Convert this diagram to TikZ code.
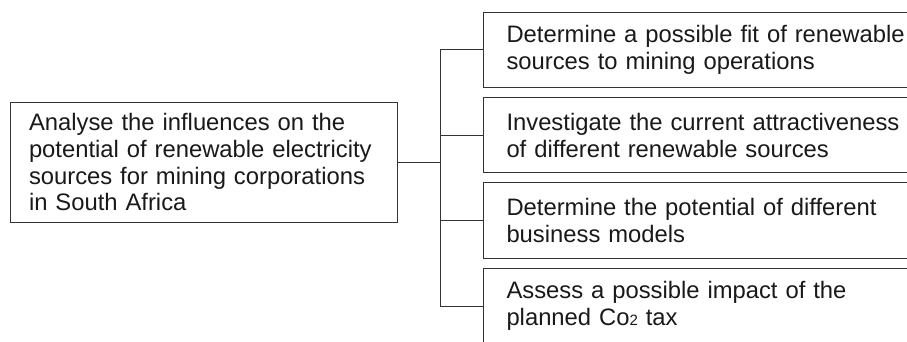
\documentclass[tikz,border=0pt]{standalone}
\usepackage{fontspec}
\setmainfont{Liberation Sans}
\begin{document}
\begin{tikzpicture}[x=1pt,y=1pt,
  box/.style={draw=black!80, line width=1pt, anchor=north west, align=left,
    font=\fontsize{23.8pt}{26.7pt}\selectfont, text=black!90, inner ysep=1pt},
  mainbox/.style={box, text width=349pt, inner xsep=19pt, minimum height=120.3pt},
  subbox/.style={box, text width=420pt, inner xsep=23pt, minimum height=75.3pt},
  link/.style={draw=black!80, line width=1pt}]
\useasboundingbox (0,0) rectangle (907,-341);
\node[mainbox] (main) at (9.5,-101.7) {Analyse the influences on the\\potential of renewable electricity\\sources for mining corporations\\in South Africa};
\node[subbox] (b1) at (483,-11.7) {Determine a possible fit of renewable\\sources to mining operations};
\node[subbox] (b2) at (483,-97) {Investigate the current attractiveness\\of different renewable sources};
\node[subbox] (b3) at (483,-182.3) {Determine the potential of different\\business models};
\node[subbox] (b4) at (483,-268) {Assess a possible impact of the\\planned Co{\fontsize{15pt}{15pt}\selectfont 2} tax};
\coordinate (j) at (440,0);
\draw[link] (main.east) -- (main.east -| j);
\draw[link] (b1.west -| j) -- (b4.west -| j);
\foreach \b in {b1,b2,b3,b4} \draw[link] (\b.west -| j) -- (\b.west);
\end{tikzpicture}
\end{document}
